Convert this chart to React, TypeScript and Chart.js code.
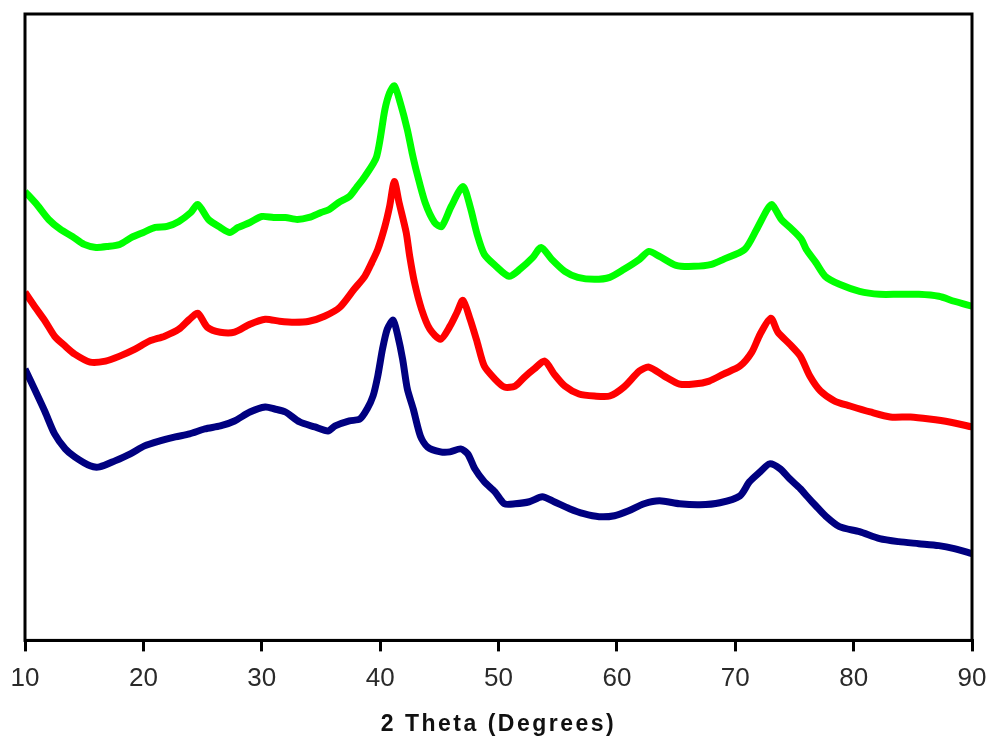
import React, { useEffect, useRef } from "react";
import { Chart, registerables } from "chart.js";

Chart.register(...registerables);

// X axis: 2 Theta (degrees)
const xTicks = [10, 20, 30, 40, 50, 60, 70, 80, 90];

// Green (top) pattern
const greenTheta = [10, 11, 12, 13, 14, 15, 16, 17, 18, 19, 20, 21, 22, 23, 24, 24.6, 25.5, 26.5, 27.3, 28, 29, 30, 31, 32, 33, 34, 35, 35.7, 36.5, 37.4, 38, 38.7, 39.7, 40.4, 40.8, 41.2, 41.7, 42.3, 42.7, 43.1, 43.8, 44.6, 45.2, 46, 47, 47.6, 48.2, 48.8, 49.8, 50.9, 51.8, 52.9, 53.6, 54.5, 55.6, 56.7, 58.1, 59.4, 60.6, 61.9, 62.7, 63.6, 65, 66.5, 68, 69, 70.8, 71.8, 72.7, 73.1, 73.9, 74.8, 75.6, 76, 76.8, 77.6, 78.8, 80.5, 82.2, 83.8, 85.5, 87.2, 88.5, 90];
const greenIntensity = [450, 437, 422, 412, 405, 397, 394, 395, 397, 404, 409, 414, 415, 420, 429, 437, 422, 414, 409, 414, 419, 425, 424, 424, 422, 424, 429, 432, 439, 445, 454, 465, 485, 532, 549, 556, 539, 512, 489, 469, 439, 419, 415, 435, 455, 435, 407, 387, 375, 365, 372, 384, 394, 382, 370, 364, 362, 364, 372, 382, 390, 385, 376, 375, 377, 382, 392, 412, 432, 437, 422, 412, 402, 392, 379, 365, 357, 350, 347, 347, 347, 345, 340, 335];

// Red (middle) pattern
const redTheta = [10, 10.8, 11.7, 12.5, 13.4, 14.2, 15.5, 16.8, 18, 19.3, 20.5, 21.8, 23, 23.9, 24.6, 25.4, 26.5, 27.7, 29, 30.3, 31.5, 32.8, 34, 35.3, 36.6, 37.8, 38.7, 39.3, 39.8, 40.4, 40.8, 41.2, 41.6, 42.2, 42.5, 42.9, 43.5, 44.2, 45.1, 45.9, 46.5, 47, 47.6, 48.2, 48.8, 49.7, 50.5, 51.4, 52.2, 53, 53.9, 54.7, 55.6, 56.8, 58.1, 59.4, 60.6, 61.9, 62.7, 64, 65.3, 66.5, 67.8, 69, 70.4, 71.4, 72.1, 73, 73.6, 74.6, 75.5, 76.3, 77.2, 78.4, 79.7, 81.4, 83.1, 84.8, 86.4, 88.1, 90];
const redIntensity = [349, 335, 320, 305, 295, 287, 279, 280, 285, 292, 300, 305, 312, 322, 328, 314, 309, 309, 317, 322, 320, 319, 320, 325, 334, 352, 365, 379, 392, 415, 435, 460, 439, 409, 385, 359, 332, 312, 302, 315, 329, 341, 322, 299, 275, 262, 254, 255, 264, 272, 280, 267, 255, 247, 245, 245, 254, 270, 274, 265, 257, 257, 260, 267, 275, 289, 307, 323, 309, 297, 285, 265, 250, 240, 235, 229, 224, 224, 222, 219, 214];

// Blue (bottom) pattern
const blueTheta = [10, 10.8, 11.7, 12.5, 13.4, 14.2, 15.5, 16.3, 17.6, 18.9, 20.1, 21.4, 22.7, 23.9, 25.2, 26.5, 27.7, 29, 30.3, 31.1, 32, 33.2, 34.5, 35.6, 36.2, 37.4, 38.3, 38.9, 39.4, 39.8, 40.2, 40.6, 41.1, 41.5, 41.9, 42.3, 42.8, 43.4, 44, 45.1, 45.9, 46.8, 47.4, 48, 48.8, 49.7, 50.5, 51.4, 52.6, 53.7, 54.7, 56, 57.2, 58.5, 59.8, 61, 62.3, 63.6, 65.3, 67, 68.7, 70.4, 71.2, 72.1, 72.9, 73.8, 74.6, 75.5, 76.1, 76.8, 77.6, 78.8, 80.5, 82.2, 83.8, 85.5, 87.2, 88.5, 90];
const blueIntensity = [272, 252, 229, 207, 192, 184, 175, 174, 180, 187, 195, 200, 204, 207, 212, 215, 220, 229, 234, 232, 229, 219, 214, 210, 215, 220, 222, 232, 245, 265, 292, 312, 321, 305, 282, 252, 232, 205, 194, 189, 189, 192, 187, 172, 159, 149, 137, 137, 139, 144, 139, 132, 127, 124, 125, 130, 137, 140, 137, 136, 138, 145, 159, 169, 177, 172, 162, 152, 144, 135, 125, 114, 109, 102, 99, 97, 95, 92, 87];

const toPoints = (xs: number[], ys: number[]) => xs.map((x, i) => ({ x, y: ys[i] }));

const framePlugin = {
  id: "frame",
  beforeDraw(chart: any) {
    (chart.ctx as any).letterSpacing = "2.5px";
  },
  beforeDatasetsDraw(chart: any) {
    (chart.ctx as any).letterSpacing = "0px";
  },
  afterDatasetsDraw(chart: any) {
    const { ctx, chartArea } = chart;
    ctx.save();
    ctx.strokeStyle = "#000";
    ctx.lineWidth = 3;
    ctx.strokeRect(chartArea.left, chartArea.top, chartArea.right - chartArea.left, chartArea.bottom - chartArea.top);
    ctx.restore();
  },
};

export default function App() {
  const ref = useRef<HTMLCanvasElement>(null);
  useEffect(() => {
    if (!ref.current) return;
    const line = (data: any, color: string) => ({
      data,
      borderColor: color,
      backgroundColor: color,
      borderWidth: 7,
      pointRadius: 0,
      tension: 0.25,
      fill: false,
    });
    const chart = new Chart(ref.current, {
      type: "line",
      data: {
        datasets: [
          line(toPoints(greenTheta, greenIntensity), "#00FF00"),
          line(toPoints(redTheta, redIntensity), "#FF0000"),
          line(toPoints(blueTheta, blueIntensity), "#000080"),
        ],
      },
      options: {
        animation: false,
        responsive: true,
        maintainAspectRatio: false,
        layout: { padding: { left: 25, right: 17, top: 14, bottom: 0 } },
        plugins: { legend: { display: false }, tooltip: { enabled: false } },
        scales: {
          x: {
            type: "linear",
            min: 10,
            max: 90,
            afterBuildTicks: (axis: any) => {
              axis.ticks = xTicks.map((v) => ({ value: v }));
            },
            grid: {
              display: true,
              drawOnChartArea: false,
              drawTicks: true,
              tickLength: 11,
              lineWidth: 3,
              color: "#000",
            },
            border: { display: true, color: "#000", width: 3 },
            ticks: {
              z: 1,
              padding: 2,
              color: "#2a2a2a",
              font: { family: "'Liberation Sans', Arial, sans-serif", size: 26, lineHeight: "50px" },
              maxRotation: 0,
            },
            title: {
              display: true,
              text: "2 Theta (Degrees)",
              color: "#111",
              font: { family: "'Liberation Sans', Arial, sans-serif", size: 23, weight: "bold" },
              padding: { top: 5, bottom: 1 },
            },
          },
          y: {
            display: false,
            min: 0,
            max: 628,
          },
        },
      },
      plugins: [framePlugin],
    });
    return () => chart.destroy();
  }, []);
  return (
    <div style={{ position: "absolute", left: 0, top: 0, width: 989, height: 739, background: "#fff" }}>
      <canvas ref={ref} />
    </div>
  );
}
